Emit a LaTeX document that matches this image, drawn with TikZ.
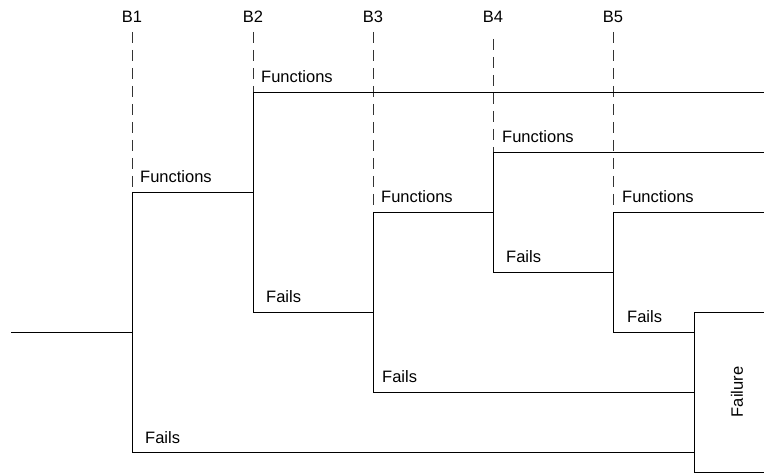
\documentclass[tikz,border=0pt]{standalone}
\usepackage{fontspec}
\setmainfont{Liberation Sans}
\begin{document}
\begin{tikzpicture}[x=1pt,y=-1pt,
  ln/.style={line width=0.8pt,black},
  guide/.style={line width=0.8pt,black!80,dash pattern=on 11pt off 7pt},
  lbl/.style={anchor=base west,inner sep=0pt,font=\fontsize{16.5}{19}\selectfont},
  head/.style={anchor=base,inner sep=0pt,font=\fontsize{16.5}{19}\selectfont},
  boxn/.style={draw,line width=0.8pt,minimum width=86pt,minimum height=160pt,inner sep=0pt,font=\fontsize{16.5}{19}\selectfont}]
\useasboundingbox (0,0) rectangle (764,473);
% headers
\node[head] (h1) at (132,23) {B1};
\node[head] (h2) at (253,23) {B2};
\node[head] (h3) at (373,23) {B3};
\node[head] (h4) at (493,23) {B4};
\node[head] (h5) at (613,23) {B5};
% junctions
\coordinate (in) at (11,332);
\coordinate (b1) at (132,332);
\coordinate (b1u) at (132,192);
\coordinate (b1d) at (132,452);
\coordinate (b2u) at (253,92);
\coordinate (b2d) at (253,312);
\coordinate (b3u) at (373,212);
\coordinate (b3d) at (373,392);
\coordinate (b4u) at (493,152);
\coordinate (b4d) at (493,272);
\coordinate (b5u) at (613,212);
\coordinate (b5d) at (613,332);
\coordinate (eR) at (764,0);
\node[boxn] (fail) at (737,392) {\rotatebox{90}{Failure}};
% guides
\draw[guide] (132,32) -- (b1u);
\draw[guide] (253,32) -- (b2u);
\draw[guide] (373,32) -- (b3u);
\draw[guide] (493,39) -- (b4u);
\draw[guide] (613,32) -- (b5u);
% tree
\draw[ln] (in) -- (b1);
\draw[ln] (b1u) -- (b1d);
\draw[ln] (b1u) -- (b1u -| b2u);
\draw[ln] (b2u) -- (b2d);
\draw[ln] (b2u) -- (b2u -| eR);
\draw[ln] (b2d) -- (b2d -| b3u);
\draw[ln] (b3u) -- (b3d);
\draw[ln] (b3u) -- (b3u -| b4u);
\draw[ln] (b4u) -- (b4d);
\draw[ln] (b4u) -- (b4u -| eR);
\draw[ln] (b4d) -- (b4d -| b5u);
\draw[ln] (b5u) -- (b5d);
\draw[ln] (b5u) -- (b5u -| eR);
\draw[ln] (b5d) -- (b5d -| fail.west);
\draw[ln] (b3d) -- (b3d -| fail.west);
\draw[ln] (b1d) -- (b1d -| fail.west);
% labels
\node[lbl] (f1) at (140,183) {Functions};
\node[lbl] (x1) at (145,443) {Fails};
\node[lbl] (f2) at (261,83) {Functions};
\node[lbl] (x2) at (266,303) {Fails};
\node[lbl] (f3) at (381,203) {Functions};
\node[lbl] (x3) at (382,383) {Fails};
\node[lbl] (f4) at (502,143) {Functions};
\node[lbl] (x4) at (506,263) {Fails};
\node[lbl] (f5) at (622,203) {Functions};
\node[lbl] (x5) at (627,323) {Fails};
\end{tikzpicture}
\end{document}
